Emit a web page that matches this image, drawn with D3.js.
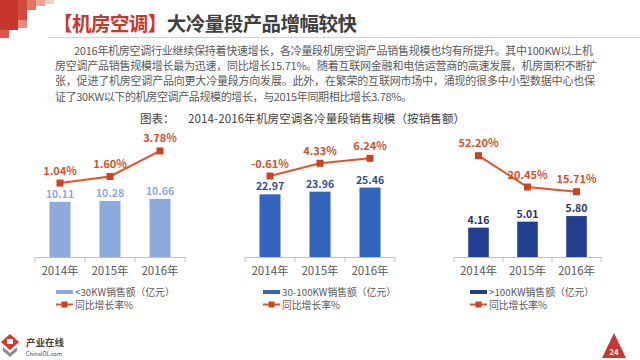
<!DOCTYPE html>
<html><head><meta charset="utf-8">
<script src="https://cdn.jsdelivr.net/npm/d3@7/dist/d3.min.js"></script>
<style>
html,body{margin:0;padding:0;background:#fff;}
svg{display:block;font-family:"Noto Sans CJK SC","Noto Sans",sans-serif;}
</style></head>
<body>
<svg id="c" width="640" height="360"></svg>
<script>
// ---- data ----
const years = ["2014年", "2015年", "2016年"];
const sales30 = [10.11, 10.28, 10.66];
const growth30 = [1.04, 1.60, 3.78];
const sales30to100 = [22.97, 23.96, 25.46];
const growth30to100 = [-0.61, 4.33, 6.24];
const sales100 = [4.16, 5.01, 5.80];
const growth100 = [52.20, 20.45, 15.71];
const barLegends = ["<30KW销售额（亿元）", "30-100KW销售额（亿元）", ">100KW销售额（亿元）"];
const lineLegend = "同比增长率%";
const titleRed = "【机房空调】";
const titleDark = "大冷量段产品增幅较快";
const paragraph = [
  "2016年机房空调行业继续保持着快速增长，各冷量段机房空调产品销售规模也均有所提升。其中100KW以上机",
  "房空调产品销售规模增长最为迅速，同比增长15.71%。随着互联网金融和电信运营商的高速发展，机房面积不断扩",
  "张，促进了机房空调产品向更大冷量段方向发展。此外，在繁荣的互联网市场中，涌现的很多中小型数据中心也保",
  "证了30KW以下的机房空调产品规模的增长，与2015年同期相比增长3.78%。"
];
const chartLabel = "图表：";
const chartTitle = "2014-2016年机房空调各冷量段销售规模（按销售额）";

const svg = d3.select("#c");

// ---- decoration top-left ----
const deco = [
  [0,0,18,30,"#c8352b"],[18,0,9,20,"#d24a3c"],[27,0,9,10,"#de7465"],
  [36,0,9,6,"#eaa49a"],[45,0,9,4,"#f3cdc7"],[0,30,9,8,"#d9574a"],[18,20,9,8,"#e68a7e"]
];
svg.selectAll("rect.deco").data(deco).join("rect").attr("class","deco")
  .attr("x",d=>d[0]).attr("y",d=>d[1]).attr("width",d=>d[2]).attr("height",d=>d[3]).attr("fill",d=>d[4]);

// ---- title ----
const t = svg.append("text").attr("x",53).attr("y",22).attr("dominant-baseline","central")
  .attr("font-size",19.5).attr("font-weight","bold").attr("textLength",304).attr("lengthAdjust","spacing");
t.append("tspan").attr("fill","#c8372d").text(titleRed);
t.append("tspan").attr("fill","#404040").text(titleDark);
svg.append("line").attr("x1",48).attr("x2",640).attr("y1",37.5).attr("y2",37.5).attr("stroke","#d0d0d0").attr("stroke-width",1);

// ---- paragraph ----
const pX = [74,55,55,55], pEnd = [593,597,595,412], pY = [49.7,64.8,80.4,96.3];
svg.selectAll("text.para").data(paragraph).join("text").attr("class","para")
  .attr("x",(d,i)=>pX[i]).attr("y",(d,i)=>pY[i]).attr("dominant-baseline","central")
  .attr("font-size",11).attr("fill","#595959")
  .attr("textLength",(d,i)=>pEnd[i]-pX[i]).attr("lengthAdjust","spacing")
  .text(d=>d);

svg.append("text").attr("x",140).attr("y",118).attr("dominant-baseline","central")
  .attr("font-size",11.5).attr("fill","#404040").text(chartLabel);
svg.append("text").attr("x",188).attr("y",118).attr("dominant-baseline","central")
  .attr("font-size",11.5).attr("fill","#404040").attr("textLength",277).attr("lengthAdjust","spacing").text(chartTitle);

// ---- charts ----
const charts = [
  {sales:sales30, growth:growth30, legend:barLegends[0], x0:35, x1:185, barMax:22, lineDom:[0,4], lineRange:[195.2,148.4],
   barColor:"#8eaadb", labelColor:"#8eaadb", legX:56},
  {sales:sales30to100, growth:growth30to100, legend:barLegends[1], x0:245, x1:395, barMax:44, lineDom:[-2,8], lineRange:[179.6,153.8],
   barColor:"#3465bd", labelColor:"#2f4f8f", legX:263},
  {sales:sales100, growth:growth100, legend:barLegends[2], x0:454, x1:601, barMax:17, lineDom:[0,60], lineRange:[207.2,148.0],
   barColor:"#213f8e", labelColor:"#1f3864", legX:470}
];
const baseY = 257, topY = 137;
const lineColor = "#e0532b", markColor = "#c9441f", lineLabelColor = "#d4502c";
const fmt2 = d => d3.format(".2f")(d).replace("\u2212","-");

charts.forEach(c => {
  const g = svg.append("g");
  const x = d3.scaleBand().domain(years).range([c.x0,c.x1]).paddingInner(0.58).paddingOuter(0.29);
  const yb = d3.scaleLinear().domain([0,c.barMax]).range([baseY,topY]);
  const yl = d3.scaleLinear().domain(c.lineDom).range(c.lineRange);
  const cx = d => x(d) + x.bandwidth()/2;

  // bars
  g.selectAll("rect.bar").data(c.sales).join("rect")
    .attr("x",(d,i)=>x(years[i])).attr("width",x.bandwidth())
    .attr("y",d=>yb(d)).attr("height",d=>baseY-yb(d)).attr("fill",c.barColor);
  g.selectAll("text.bl").data(c.sales).join("text")
    .attr("x",(d,i)=>cx(years[i])).attr("y",d=>yb(d)-8.5).attr("dominant-baseline","central")
    .attr("text-anchor","middle").attr("font-size",10.5).attr("font-weight","bold").attr("fill",c.labelColor)
    .text(d=>fmt2(d));

  // axis
  const ax = g.append("g").attr("transform",`translate(0,${baseY})`)
    .call(d3.axisBottom(x).tickSize(0).tickPadding(10).tickSizeOuter(0));
  ax.select(".domain").attr("stroke","#bfbfbf");
  ax.selectAll("text").attr("font-size",11.5).attr("fill","#595959").attr("font-family","'Noto Sans CJK SC','Noto Sans',sans-serif");
  const bounds = d3.range(years.length+1).map(i => x.range()[0] + i*(x.range()[1]-x.range()[0])/years.length);
  g.selectAll("line.tk").data(bounds).join("line")
    .attr("x1",d=>d).attr("x2",d=>d).attr("y1",baseY).attr("y2",baseY+5).attr("stroke","#bfbfbf");

  // line
  const line = d3.line().x((d,i)=>cx(years[i])).y(d=>yl(d));
  g.append("path").datum(c.growth).attr("d",line).attr("fill","none").attr("stroke",lineColor).attr("stroke-width",2);
  g.selectAll("rect.mk").data(c.growth).join("rect")
    .attr("x",(d,i)=>cx(years[i])-3.5).attr("y",d=>yl(d)-3.5).attr("width",7).attr("height",7).attr("fill",markColor);
  g.selectAll("text.ll").data(c.growth).join("text")
    .attr("x",(d,i)=>cx(years[i])).attr("y",d=>yl(d)-13.5).attr("dominant-baseline","central")
    .attr("text-anchor","middle").attr("font-size",11).attr("font-weight","bold").attr("fill",lineLabelColor)
    .text(d=>fmt2(d)+"%");

  // legend
  g.append("rect").attr("x",c.legX).attr("y",290).attr("width",17).attr("height",4).attr("fill",c.barColor);
  g.append("text").attr("x",c.legX+19).attr("y",292).attr("dominant-baseline","central")
    .attr("font-size",9.8).attr("fill","#595959").text(c.legend);
  g.append("line").attr("x1",c.legX).attr("x2",c.legX+17).attr("y1",304.5).attr("y2",304.5).attr("stroke",lineColor).attr("stroke-width",2);
  g.append("rect").attr("x",c.legX+5.5).attr("y",301.5).attr("width",6).attr("height",6).attr("fill",markColor);
  g.append("text").attr("x",c.legX+19).attr("y",304.5).attr("dominant-baseline","central")
    .attr("font-size",9.8).attr("fill","#595959").text(lineLegend);
});

// ---- footer ----
const logo = svg.append("g");
logo.append("path").attr("d","M10,334 L19,342 L10,350 L1,342 Z").attr("fill","#d33a2c");
logo.append("path").attr("d","M3,347 L10,353 L17,347 L17,351 L10,357 L3,351 Z").attr("fill","#8c8c8c");
logo.append("rect").attr("x",7).attr("y",339).attr("width",6).attr("height",5).attr("fill","#fff");
svg.append("text").attr("x",26).attr("y",342).attr("dominant-baseline","central").attr("font-size",9.5)
  .attr("font-weight","bold").attr("fill","#404040").text("产业在线");
svg.append("text").attr("x",26).attr("y",354).attr("dominant-baseline","central").attr("font-size",5.5)
  .attr("fill","#404040").text("ChinaIOL.com");
svg.append("path").attr("d","M614,333 L626,358 L602,358 Z").attr("fill","#c8372d");
svg.append("text").attr("x",614).attr("y",351).attr("dominant-baseline","central").attr("text-anchor","middle")
  .attr("font-size",8).attr("font-weight","bold").attr("fill","#fff").text("24");
</script>
</body></html>
